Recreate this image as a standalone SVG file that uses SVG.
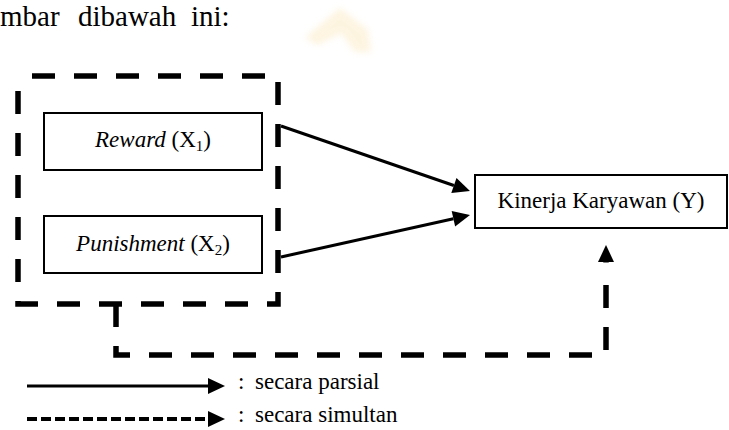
<svg xmlns="http://www.w3.org/2000/svg" width="729" height="430" viewBox="0 0 729 430">
<style>
  text { font-family: "Liberation Serif", "Times New Roman", serif; fill: #000; }
  .lbl { font-size: 23px; }
  .ttl { font-size: 29px; }
  .box { fill: #fff; stroke: #000; stroke-width: 2; }
  .solid { fill: none; stroke: #000; stroke-width: 3; }
  .dash { fill: none; stroke: #000; stroke-width: 5.5; stroke-dasharray: 23 19; }
  .ldash { fill: none; stroke: #000; stroke-width: 4; stroke-dasharray: 10 4; }
</style>
<defs>
  <marker id="ah" markerUnits="userSpaceOnUse" markerWidth="18" markerHeight="16" refX="0" refY="8" orient="auto" overflow="visible">
    <path d="M0,0 L17,8 L0,16 Z" fill="#000"/>
  </marker>
  <filter id="blur" x="-20%" y="-20%" width="140%" height="140%"><feGaussianBlur stdDeviation="3"/></filter>
</defs>
<rect width="729" height="430" fill="#fff"/>

<g id="watermark">
  <path d="M305,38 L340,8 L368,30 L371,52 L355,52 L341,33 L318,45 Z" fill="#fdf0d4" opacity="0.7" filter="url(#blur)"/>
</g>

<g id="title">
  <text class="ttl" x="0" y="26">mbar</text>
  <text class="ttl" x="78" y="26">dibawah</text>
  <text class="ttl" x="191" y="26">ini:</text>
</g>

<g id="group-x">
  <path class="dash" stroke-dashoffset="28" d="M18,76 H278 V304 H18 Z"/>
</g>

<g id="reward">
  <rect class="box" x="44" y="113" width="218" height="57"/>
  <text class="lbl" x="153" y="147" text-anchor="middle"><tspan font-style="italic">Reward</tspan> (X<tspan font-size="15" dy="4">1</tspan><tspan dy="-4">)</tspan></text>
</g>

<g id="punishment">
  <rect class="box" x="44" y="216" width="218" height="57"/>
  <text class="lbl" x="153" y="251" text-anchor="middle"><tspan font-style="italic">Punishment</tspan> (X<tspan font-size="15" dy="4">2</tspan><tspan dy="-4">)</tspan></text>
</g>

<g id="kinerja">
  <rect class="box" x="475" y="175" width="252" height="53"/>
  <text class="lbl" x="601" y="208" text-anchor="middle">Kinerja Karyawan (Y)</text>
</g>

<g id="connectors">
  <path class="solid" d="M281,126 L453.9,185.5" marker-end="url(#ah)"/>
  <path class="solid" d="M281,257 L453.4,218.7" marker-end="url(#ah)"/>
  <path class="dash" d="M116,304 V355 H606 V280 M606,262.5 V262" marker-end="url(#ah)"/>
</g>

<g id="legend">
  <path class="solid" d="M27,386 H208" marker-end="url(#ah)"/>
  <path class="ldash" d="M27,419 H208" marker-end="url(#ah)"/>
  <text class="lbl" x="238" y="389">:</text>
  <text class="lbl" x="255" y="389">secara parsial</text>
  <text class="lbl" x="238" y="422">:</text>
  <text class="lbl" x="255" y="422">secara simultan</text>
</g>
</svg>
